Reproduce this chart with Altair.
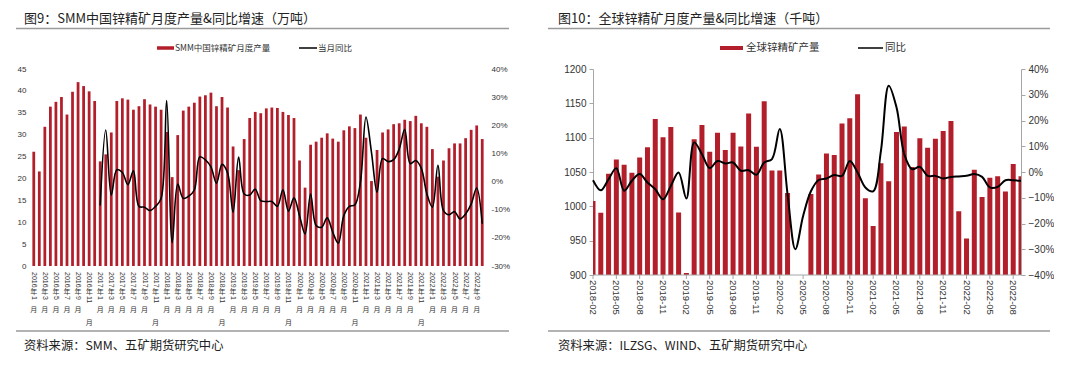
import altair as alt
import pandas as pd

RED = "#B31E2B"
FONT_CN = "Noto Sans CJK SC"
FONT_NUM = "Liberation Sans"
AXIS_GREY = "#A6A6A6"
SEP_GREY = "#9A9A9A"

# ---------------- Figure 9 : SMM China zinc concentrate ----------------
months1 = pd.date_range("2016-01-01", "2022-10-01", freq="MS").strftime("%Y-%m").tolist()
prod1 = [
    26.1, 21.6, 31.8, 36.4, 37.5, 38.6, 34.6, 39.8, 42.0, 41.1, 39.9, 37.7,
    23.9, 25.5, 30.5, 37.7, 38.3, 38.0, 35.7, 36.5, 38.1, 36.9, 36.4, 35.7,
    30.6, 20.3, 29.9, 35.5, 36.4, 37.3, 38.7, 39.0, 39.6, 36.5, 38.6, 36.2,
    27.3, 21.9, 29.0, 33.8, 35.2, 34.9, 36.0, 36.2, 36.1, 35.2, 34.5, 33.8,
    24.1, 17.9, 27.7, 28.4, 29.3, 30.3, 29.1, 28.4, 31.0, 31.9, 31.5, 34.6,
    29.3, 19.4, 26.5, 30.5, 31.2, 32.4, 32.6, 33.4, 33.1, 34.3, 32.6, 31.8,
    26.7, 20.4, 24.1, 26.9, 28.0, 28.0, 29.2, 31.1, 32.1, 29.0,
]
yoy1 = [None] * 12 + [
    -8.5, 18.3, -4.8, 4.2, 3.2, -1.1, 3.8, -8.8, -9.1, -10.3, -8.8, -6.0,
    28.8, -21.7, -0.9, -6.0, -5.2, -3.0, 8.8, 7.7, 5.2, -0.6, 6.1, 3.1,
    -10.9, 8.7, -4.4, -4.8, -2.7, -6.8, -7.1, -7.1, -8.8, -2.9, -10.5, -5.8,
    -12.1, -18.6, -4.4, -15.6, -16.2, -12.9, -18.0, -21.9, -12.1, -8.8, -8.3, -0.2,
    22.9, 10.3, -3.8, 8.2, 7.1, 7.8, 11.5, 18.6, 6.4, 7.5, 4.7, -4.4,
    -9.1, 5.8, -10.3, -11.8, -10.7, -13.3, -11.5, -8.0, -2.3, -15.0,
]
title1 = "图9：SMM中国锌精矿月度产量&同比增速（万吨）"
source1 = "资料来源：SMM、五矿期货研究中心"
legend1 = ["SMM中国锌精矿月度产量", "当月同比"]

# ---------------- Figure 10 : global zinc concentrate ----------------
months2 = pd.date_range("2018-02-01", "2022-09-01", freq="MS").strftime("%Y-%m").tolist()
prod2 = [
    1007.8, 990.7, 1047.3, 1068.3, 1060.5, 1048.8, 1071.2, 1085.9, 1127.3, 1100.5, 1115.6,
    991.2, 902.9, 1097.6, 1118.5, 1079.5, 1107.3, 1082.0, 1107.3, 1087.3, 1135.1, 1086.8, 1153.2,
    1052.2, 1052.2, 1019.5, None, None, 1018.0, 1046.3, 1077.1, 1074.6, 1120.5, 1128.3, 1163.4,
    1011.7, 971.2, 1062.9, 1036.6, 1108.3, 1116.1, 1057.1, 1099.0, 1085.4, 1098.5, 1109.8, 1124.4,
    992.7, 953.2, 1053.2, 1013.7, 1041.5, 1043.9, 1021.5, 1061.5, 1043.9,
]
yoy2 = [
    -3.2, -7.1, -2.8, 1.5, -7.3, -3.4, -0.8, -4.1, -6.7, -10.6, -5.4,
    -0.2, -10.3, 11.5, 6.9, 1.5, 4.3, 3.3, 3.7, 0.5, 0.7, -1.1, 3.7,
    5.0, 16.7, -8.6, -30.0, -17.1, -7.5, -3.1, -2.5, -1.2, -1.5, 4.3, -0.2,
    -6.0, -7.5, 8.2, 33.5, 25.1, 6.9, 1.1, 2.0, -1.5, -1.5, -2.5, -1.9,
    -1.7, -1.5, -0.8, -1.9, -6.0, -5.8, -3.2, -3.2, -3.4,
]
title2 = "图10：全球锌精矿月度产量&同比增速（千吨）"
source2 = "资料来源：ILZSG、WIND、五矿期货研究中心"
legend2 = ["全球锌精矿产量", "同比"]

df1 = pd.DataFrame({"m": months1, "prod": prod1, "yoy": yoy1})
df2 = pd.DataFrame({"i": list(range(len(months2))), "m": months2,
                    "prod": prod2, "yoy": yoy2})

lab1 = months1[::2]
lab_df1 = pd.DataFrame({"m": lab1,
                        "yr": [s[:4] for s in lab1],
                        "mo": [str(int(s[5:])) for s in lab1]})
lab2_idx = list(range(0, len(months2), 3))
lab_df2 = df2.iloc[lab2_idx][["i", "m"]]


def text_layer(txt, x, y, size, font=FONT_CN, color="#222222", align="left"):
    return alt.Chart(pd.DataFrame({"t": [txt]})).mark_text(
        align=align, baseline="middle", font=font, fontSize=size, color=color
    ).encode(text="t:N", x=alt.value(x), y=alt.value(y))


def hrule(x1, x2, y, color, width):
    return alt.Chart(pd.DataFrame({"a": [0]})).mark_rule(
        color=color, strokeWidth=width
    ).encode(x=alt.value(x1), x2=alt.value(x2), y=alt.value(y))


TOP = 72  # page y of both plot areas' top edge
LAB_C = "#333333"

# ================= panel 1 =================
W1, H1 = 454, 197
xs1 = alt.Scale(domain=months1, paddingInner=0.5, paddingOuter=0.25)

bars1 = alt.Chart(df1).mark_bar(color=RED).encode(
    x=alt.X("m:N", scale=xs1, title=None,
            axis=alt.Axis(values=lab1, labels=False, ticks=True, tickSize=4,
                          tickColor=AXIS_GREY, domainColor=AXIS_GREY,
                          bandPosition=0.5, grid=False)),
    y=alt.Y("prod:Q", scale=alt.Scale(domain=[0, 45], nice=False), title=None,
            axis=alt.Axis(values=list(range(0, 46, 5)), domain=False, ticks=False,
                          grid=False, labelFont=FONT_NUM, labelFontSize=8,
                          labelColor=LAB_C, labelPadding=5)),
)
line1 = alt.Chart(df1).mark_line(color="black", strokeWidth=1.6,
                                 interpolate="catmull-rom").encode(
    x=alt.X("m:N", scale=xs1, axis=None, bandPosition=0.5),
    y=alt.Y("yoy:Q", scale=alt.Scale(domain=[-30, 40], nice=False), title=None,
            axis=alt.Axis(orient="right", values=list(range(-30, 41, 10)),
                          labelExpr="datum.value + '%'", domain=False, ticks=False,
                          grid=False, labelFont=FONT_NUM, labelFontSize=8,
                          labelColor=LAB_C, labelPadding=6)),
)

lab_base = alt.Chart(lab_df1)
xl = alt.X("m:N", scale=xs1, axis=None, bandPosition=0.5)
yr_t = lab_base.mark_text(angle=90, align="left", baseline="middle", font=FONT_NUM,
                          fontSize=7, color=LAB_C).encode(
    x=xl, y=alt.value(H1 + 6), text="yr:N")
nian_t = lab_base.mark_text(align="center", baseline="top", font=FONT_CN,
                            fontSize=7, color=LAB_C).encode(
    x=xl, y=alt.value(H1 + 22), text=alt.value("年"))
mo_t = lab_base.mark_text(angle=90, align="left", baseline="middle", font=FONT_NUM,
                          fontSize=7, color=LAB_C).encode(
    x=xl, y=alt.value(H1 + 30), text="mo:N")
yue1 = lab_base.transform_filter("length(datum.mo) == 1").mark_text(
    align="center", baseline="top", font=FONT_CN, fontSize=7, color=LAB_C).encode(
    x=xl, y=alt.value(H1 + 40), text=alt.value("月"))
yue2 = lab_base.transform_filter("length(datum.mo) == 2").mark_text(
    align="center", baseline="top", font=FONT_CN, fontSize=7, color=LAB_C).encode(
    x=xl, y=alt.value(H1 + 53), text=alt.value("月"))

deco1 = [
    text_layer(title1, -7, 21.5 - TOP, 13),
    hrule(-15, 478, 31.5 - TOP, SEP_GREY, 1.5),
    hrule(126, 143, 51 - TOP, RED, 3.5),
    text_layer(legend1[0], 144, 51 - TOP, 8.5, color=LAB_C),
    hrule(268, 286, 51 - TOP, "black", 1.5),
    text_layer(legend1[1], 287, 51 - TOP, 8.5, color=LAB_C),
    hrule(-15, 478, 334 - TOP, SEP_GREY, 1.5),
    text_layer(source1, -7, 349 - TOP, 12.3),
]

panel1 = alt.layer(bars1, line1, yr_t, nian_t, mo_t, yue1, yue2, *deco1).resolve_scale(
    y="independent").properties(width=W1, height=H1)

# ================= panel 2 =================
W2, H2 = 428, 206
xs2 = alt.Scale(domain=[0, len(months2) - 1], nice=False, zero=False, padding=0)

bars2 = alt.Chart(df2).mark_bar(color=RED, clip=True, size=5).encode(
    x=alt.X("i:Q", scale=xs2, title=None,
            axis=alt.Axis(values=lab2_idx, labels=False, ticks=True, tickSize=4,
                          tickColor=AXIS_GREY, domainColor=AXIS_GREY, grid=False)),
    y=alt.Y("prod:Q", title=None,
            scale=alt.Scale(domain=[900, 1200], nice=False, zero=False),
            axis=alt.Axis(values=list(range(900, 1201, 50)), format="d",
                          domainColor=AXIS_GREY, tickColor=AXIS_GREY, tickSize=4,
                          grid=False, labelFont=FONT_NUM, labelFontSize=10,
                          labelColor=LAB_C, labelPadding=3)),
)
line2 = alt.Chart(df2).mark_line(color="black", strokeWidth=2,
                                 interpolate="catmull-rom").encode(
    x=alt.X("i:Q", scale=xs2, axis=None),
    y=alt.Y("yoy:Q", title=None,
            scale=alt.Scale(domain=[-40, 40], nice=False),
            axis=alt.Axis(orient="right", values=list(range(-40, 41, 10)),
                          labelExpr="replace(datum.value + '%', '-', '\u2212')",
                          domainColor=AXIS_GREY, tickColor=AXIS_GREY, tickSize=4,
                          grid=False, labelFont=FONT_NUM, labelFontSize=10,
                          labelColor=LAB_C, labelPadding=3)),
)
xlab2 = alt.Chart(lab_df2).mark_text(angle=90, align="left", baseline="middle",
                                     font=FONT_NUM, fontSize=9.5, color=LAB_C).encode(
    x=alt.X("i:Q", scale=xs2, axis=None), y=alt.value(H2 + 5), text="m:N")
xtick2 = alt.Chart(lab_df2).mark_rule(color=AXIS_GREY, strokeWidth=1).encode(
    x=alt.X("i:Q", scale=xs2, axis=None), y=alt.value(H2), y2=alt.value(H2 + 4))

deco2 = [
    hrule(0, W2, H2, AXIS_GREY, 1),
    text_layer(title2, -35, 21.5 - TOP, 13),
    hrule(-45, 457, 31.5 - TOP, SEP_GREY, 1.5),
    hrule(127, 150, 51 - TOP, RED, 4),
    text_layer(legend2[0], 153, 51 - TOP, 10.5, color=LAB_C),
    hrule(265, 290, 51 - TOP, "black", 1.5),
    text_layer(legend2[1], 292, 51 - TOP, 10.5, color=LAB_C),
    hrule(-45, 457, 334 - TOP, SEP_GREY, 1.5),
    text_layer(source2, -35, 349 - TOP, 12.3),
]

panel2 = alt.layer(bars2, line2, xlab2, xtick2, *deco2).resolve_scale(
    y="independent").properties(width=W2, height=H2)

chart = alt.hconcat(panel1, panel2, spacing=37).properties(
    padding={"left": 7, "top": 4, "right": 0, "bottom": 0},
    background="white",
).configure_view(stroke=None)

chart.save("out.html", embed_options={"renderer": "svg", "actions": False})
